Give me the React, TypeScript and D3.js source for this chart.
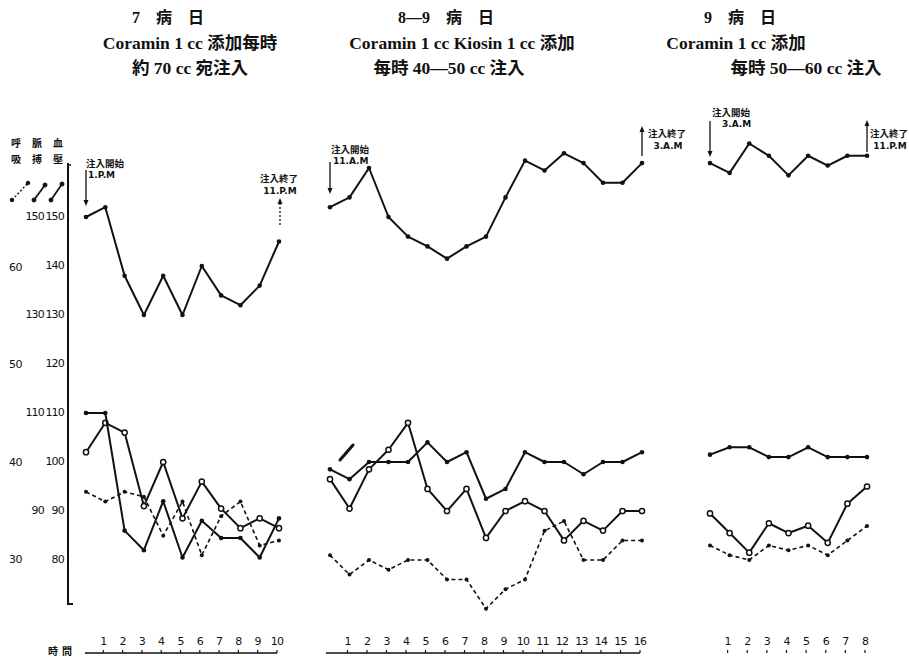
import React from "react";
import * as d3 from "d3";

// Hourly observations for three infusion periods.
// upper: top solid curve; lower: solid curve with filled dots;
// pulse: solid curve with open circles; resp: dashed curve (respiration scale).
const p1Upper = [150, 152, 138, 130, 138, 130, 140, 134, 132, 136, 145];
const p1Lower = [110, 110, 86, 82, 92, 80.5, 88, 84.5, 84.5, 80.5, 88.5];
const p1Pulse = [102, 108, 106, 91, 100, 88.5, 96, 90.5, 86.5, 88.5, 86.5];
const p1Resp = [37, 36, 37, 36.5, 32.5, 36, 30.5, 34.5, 36, 31.5, 32];

const p2Upper = [152, 154, 160, 150, 146, 144, 141.5, 144, 146, 154, 161.5, 159.5, 163, 161, 157, 157, 161];
const p2Lower = [98.5, 96.5, 100, 100, 100, 104, 100, 102, 92.5, 94.5, 102, 100, 100, 97.5, 100, 100, 102];
const p2Pulse = [96.5, 90.5, 98.5, 102.5, 108, 94.5, 90, 94.5, 84.5, 90, 92, 90, 84, 88, 86, 90, 90];
const p2Resp = [30.5, 28.5, 30, 29, 30, 30, 28, 28, 25, 27, 28, 33, 34, 30, 30, 32, 32];

const p3Upper = [161, 159, 165, 162.5, 158.5, 162.5, 160.5, 162.5, 162.5];
const p3Lower = [101.5, 103, 103, 101, 101, 103, 101, 101, 101];
const p3Pulse = [89.5, 85.5, 81.5, 87.5, 85.5, 87, 83.5, 91.5, 95];
const p3Resp = [31.5, 30.5, 30, 31.5, 31, 31.5, 30.5, 32, 33.5];

// Axis tick labels
const respTicks = [60, 50, 40, 30];
const pulseTicks = [150, 130, 110, 90];
const bpTicks = [150, 140, 130, 120, 110, 100, 90, 80];

const titles = [
  ["7\u2003病\u2003日", "Coramin 1 cc 添加每時", "約 70 cc 宛注入"],
  ["8—9\u2003病\u2003日", "Coramin 1 cc Kiosin 1 cc 添加", "每時 40—50 cc 注入"],
  ["9\u2003病\u2003日", "Coramin 1 cc 添加", "每時 50—60 cc 注入"],
];
const startNotes = [["注入開始", "1.P.M"], ["注入開始", "11.A.M"], ["注入開始", "3.A.M"]];
const endNotes = [["注入終了", "11.P.M"], ["注入終了", "3.A.M"], ["注入終了", "11.P.M"]];
const legendTop = ["呼", "脈", "血"];
const legendBottom = ["吸", "搏", "壓"];
const timeLabel = "時間";

const y = d3.scaleLinear().domain([80, 150]).range([560, 217]);
const yResp = d3.scaleLinear().domain([30, 60]).range([560, 268]);

const panels = [
  { upper: p1Upper, lower: p1Lower, pulse: p1Pulse, resp: p1Resp, x0: 86, x1: 279, axis: [85, 277] },
  { upper: p2Upper, lower: p2Lower, pulse: p2Pulse, resp: p2Resp, x0: 330, x1: 642, axis: [326, 640] },
  { upper: p3Upper, lower: p3Lower, pulse: p3Pulse, resp: p3Resp, x0: 710, x1: 867, axis: null },
];

const INK = "#111";
const cjk = "'Noto Sans CJK JP', 'Noto Sans CJK TC', sans-serif";
const serif = "'Liberation Serif', 'DejaVu Serif', 'Noto Sans CJK JP', serif";

function Series({ values, x, scale, kind }: { values: number[]; x: d3.ScaleLinear<number, number>; scale: d3.ScaleLinear<number, number>; kind: "solid" | "open" | "dash" }) {
  const line = d3.line<number>().x((_, i) => x(i)).y((v) => scale(v));
  return (
    <g>
      <path
        d={line(values) || ""}
        fill="none"
        stroke={INK}
        strokeWidth={kind === "dash" ? 1.6 : 2}
        strokeDasharray={kind === "dash" ? "4 3" : undefined}
        strokeLinejoin="round"
      />
      {values.map((v, i) =>
        kind === "open" ? (
          <circle key={i} cx={x(i)} cy={scale(v)} r={2.6} fill="#fff" stroke={INK} strokeWidth={1.5} />
        ) : (
          <circle key={i} cx={x(i)} cy={scale(v)} r={kind === "dash" ? 2 : 2.3} fill={INK} />
        )
      )}
    </g>
  );
}

function Arrow({ x, y1, y2, dashed }: { x: number; y1: number; y2: number; dashed?: boolean }) {
  const dir = y2 > y1 ? 1 : -1;
  return (
    <g stroke={INK} fill={INK}>
      <line x1={x} y1={y1} x2={x} y2={y2 - dir * 3} strokeWidth={1.3} strokeDasharray={dashed ? "2 2" : undefined} />
      <path d={`M${x - 2.5},${y2 - dir * 6} L${x},${y2} L${x + 2.5},${y2 - dir * 6} Z`} stroke="none" />
    </g>
  );
}

export default function App() {
  const xs = panels.map((p) => d3.scaleLinear().domain([0, p.upper.length - 1]).range([p.x0, p.x1]));
  // centre x of the three title lines for each period
  const titleX = [
    [168, 190, 190],
    [446, 462, 449],
    [740, 736, 806],
  ];
  const startPos = [
    { tx: 86, ty: 167, ax: 86, a1: 170, a2: 206 },
    { tx: 331, ty: 153, ax: 330, a1: 162, a2: 194 },
    { tx: 712, ty: 116, ax: 710, a1: 121, a2: 157 },
  ];
  const endPos = [
    { tx: 279, ty: 182, ax: 280, a1: 225, a2: 198, dashed: true },
    { tx: 667, ty: 137, ax: 642, a1: 156, a2: 126, dashed: false },
    { tx: 889, ty: 137, ax: 867, a1: 152, a2: 120, dashed: false },
  ];
  return (
    <svg width={909} height={658} style={{ position: "absolute", left: 0, top: 0, background: "#fff" }}>
      <rect width={909} height={658} fill="#fff" />
      {/* Titles */}
      {titles.map((t, k) => (
        <g key={k} fontFamily={serif} fontWeight="bold" fill={INK} textAnchor="middle">
          <text x={titleX[k][0]} y={23} fontSize={16}>{t[0]}</text>
          <text x={titleX[k][1]} y={49} fontSize={17.5}>{t[1]}</text>
          <text x={titleX[k][2]} y={74} fontSize={17.5}>{t[2]}</text>
        </g>
      ))}

      {/* Legend */}
      <g fontFamily={cjk} fontWeight="bold" fontSize={10} fill={INK} textAnchor="middle">
        {legendTop.map((c, i) => (
          <text key={"t" + i} x={16 + i * 21} y={147}>{c}</text>
        ))}
        {legendBottom.map((c, i) => (
          <text key={"b" + i} x={16 + i * 21} y={163}>{c}</text>
        ))}
      </g>
      <g stroke={INK} fill={INK}>
        <line x1={12} y1={200} x2={28} y2={183} strokeWidth={1.4} strokeDasharray="2 2" />
        <circle cx={12} cy={200} r={1.8} />
        <circle cx={28} cy={183} r={1.8} />
        <line x1={34} y1={200} x2={45} y2={185} strokeWidth={1.8} />
        <circle cx={34} cy={200} r={2} />
        <circle cx={45} cy={185} r={2} />
        <line x1={51} y1={200} x2={62} y2={184} strokeWidth={1.8} />
        <circle cx={51} cy={200} r={2} />
        <circle cx={62} cy={184} r={2} />
      </g>

      {/* Left axis */}
      <line x1={68} y1={163} x2={68} y2={604} stroke={INK} strokeWidth={2} />
      <line x1={67} y1={604} x2={73} y2={604} stroke={INK} strokeWidth={2} />
      <line x1={67} y1={165} x2={71} y2={165} stroke={INK} strokeWidth={1.5} />
      <g fontFamily="'DejaVu Sans', sans-serif" fontSize={11} fill={INK} textAnchor="end" dominantBaseline="middle">
        {bpTicks.map((v) => (
          <text key={"bp" + v} x={64} y={y(v)} letterSpacing={-0.8}>{v}</text>
        ))}
        {pulseTicks.map((v) => (
          <text key={"pu" + v} x={44} y={y(v)} letterSpacing={-0.8}>{v}</text>
        ))}
        {respTicks.map((v) => (
          <text key={"re" + v} x={22} y={yResp(v)} letterSpacing={-0.5}>{v}</text>
        ))}
      </g>

      {/* Series */}
      {panels.map((p, k) => (
        <g key={k}>
          <Series values={p.resp} x={xs[k]} scale={yResp} kind="dash" />
          <Series values={p.pulse} x={xs[k]} scale={y} kind="open" />
          <Series values={p.lower} x={xs[k]} scale={y} kind="solid" />
          <Series values={p.upper} x={xs[k]} scale={y} kind="solid" />
        </g>
      ))}

      {/* Short stroke near the start of the second period */}
      <line x1={340} y1={460} x2={353} y2={445} stroke={INK} strokeWidth={3} strokeLinecap="round" />

      {/* Infusion start / end notes */}
      {startNotes.map((n, k) => (
        <g key={"s" + k}>
          <g fontFamily={cjk} fontWeight="bold" fontSize={9.5} fill={INK}>
            <text x={startPos[k].tx} y={startPos[k].ty}>{n[0]}</text>
            <text x={startPos[k].tx + (k === 2 ? 10 : 2)} y={startPos[k].ty + 11} fontFamily="'DejaVu Sans', sans-serif" fontSize={9}>{n[1]}</text>
          </g>
          <Arrow x={startPos[k].ax} y1={startPos[k].a1} y2={startPos[k].a2} />
        </g>
      ))}
      {endNotes.map((n, k) => (
        <g key={"e" + k} textAnchor="middle">
          <g fontFamily={cjk} fontWeight="bold" fontSize={9.5} fill={INK}>
            <text x={endPos[k].tx} y={endPos[k].ty}>{n[0]}</text>
            <text x={endPos[k].tx + 1} y={endPos[k].ty + 12} fontFamily="'DejaVu Sans', sans-serif" fontSize={9}>{n[1]}</text>
          </g>
          <Arrow x={endPos[k].ax} y1={endPos[k].a1} y2={endPos[k].a2} dashed={endPos[k].dashed} />
        </g>
      ))}

      {/* Time axes */}
      <text x={62} y={655} fontFamily={cjk} fontWeight="bold" fontSize={10} fill={INK} textAnchor="middle" letterSpacing={4}>{timeLabel}</text>
      {panels.map((p, k) => (
        <g key={"ax" + k}>
          {p.axis && <line x1={p.axis[0]} y1={653} x2={p.axis[1]} y2={653} stroke={INK} strokeWidth={1.3} />}
          {d3.range(1, p.upper.length).map((i) => (
            <g key={i}>
              <line x1={xs[k](i) - 2} y1={653} x2={xs[k](i) - 2} y2={650} stroke={INK} strokeWidth={1.2} />
              <text x={xs[k](i) - 2} y={645} fontFamily="'DejaVu Sans', sans-serif" fontSize={11} fill={INK} textAnchor="middle" letterSpacing={-0.8}>{i}</text>
            </g>
          ))}
        </g>
      ))}
    </svg>
  );
}
